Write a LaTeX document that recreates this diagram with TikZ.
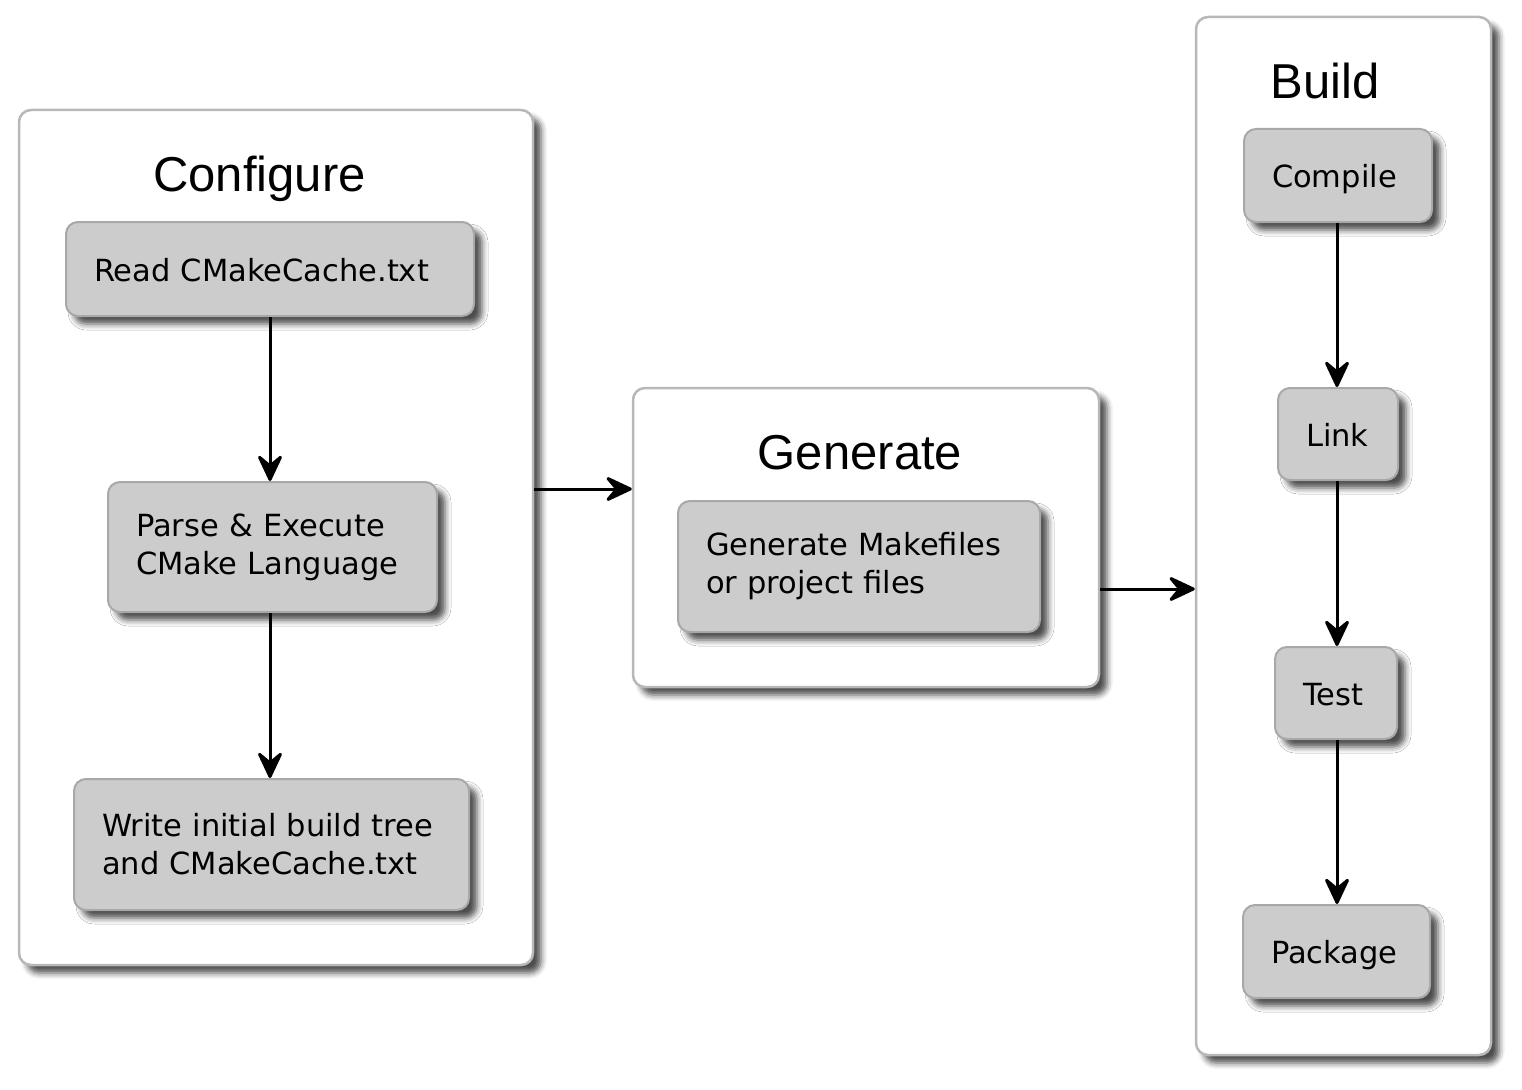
\documentclass[tikz,border=0pt]{standalone}
\usepackage{fontspec}
\setmainfont{DejaVu Sans}
\newfontfamily\titlefont{Liberation Sans}
\usetikzlibrary{arrows.meta,shadows.blur}
\definecolor{outerc}{HTML}{B8B8B8}
\definecolor{innerb}{HTML}{A8A8A8}
\definecolor{innerf}{HTML}{CCCCCC}
\begin{document}
\begin{tikzpicture}[x=1pt,y=-1pt,
  outerbox/.style={draw=outerc, line width=2.5pt, fill=white, rounded corners=12pt,
    blur shadow={shadow xshift=8pt, shadow yshift=-8pt, shadow blur radius=6pt, shadow opacity=70}},
  stepbox/.style={draw=innerb, line width=2pt, fill=innerf, rounded corners=12pt,
    inner xsep=28pt, align=left, font=\fontsize{30.5pt}{38pt}\selectfont,
    blur shadow={shadow xshift=8pt, shadow yshift=-8pt, shadow blur radius=6pt, shadow opacity=70}},
  oneline/.style={text height=31pt, text depth=7pt},
  titletext/.style={font=\titlefont\fontsize{49pt}{58pt}\selectfont, inner sep=0pt, anchor=base},
  arr/.style={line width=3pt, -{Stealth[length=31pt, width=29pt, inset=12pt, round]}}
]
\useasboundingbox (0,0) rectangle (1522,1089);

% Configure
\node[outerbox, minimum width=514pt, minimum height=855pt] (conf) at (276,537.5) {};
\node[titletext] (conft) at (259.5,191) {Configure};
\node[stepbox, oneline, minimum height=94pt, text width=352pt] (read) at (270,269) {Read CMakeCache.txt};
\node[stepbox, minimum height=130pt, text width=273pt] (parse) at (272.5,547) {Parse \& Execute\\CMake Language};
\node[stepbox, minimum height=131pt, text width=339pt] (write) at (271.5,844.5) {Write initial build tree\\and CMakeCache.txt};

% Generate
\node[outerbox, minimum width=466pt, minimum height=299pt] (gen) at (866,537.5) {};
\node[titletext] (gent) at (860,469) {Generate};
\node[stepbox, minimum height=131pt, text width=306pt] (genf) at (859,566.5) {Generate Makefiles\\or project files};

% Build
\node[outerbox, minimum width=295pt, minimum height=1038pt] (build) at (1343.5,536) {};
\node[titletext] (buildt) at (1325,99) {Build};
\node[stepbox, oneline, minimum height=93pt, text width=132pt] (compile) at (1338,175.5) {Compile};
\node[stepbox, oneline, minimum height=92pt, text width=64pt] (link) at (1338,434) {Link};
\node[stepbox, oneline, minimum height=92pt, text width=66pt] (test) at (1336,693) {Test};
\node[stepbox, oneline, minimum height=93pt, text width=131pt] (package) at (1336.5,951.5) {Package};

% connectors
\coordinate (y1) at (0,489);
\coordinate (y2) at (0,589);
\draw[arr] (read.south) -- (read.south |- parse.north);
\draw[arr] (parse.south -| read.south) -- (read.south |- write.north);
\draw[arr] (conf.east |- y1) -- (gen.west |- y1);
\draw[arr] (gen.east |- y2) -- (build.west |- y2);
\coordinate (bx) at (1337,0);
\draw[arr] (bx |- compile.south) -- (bx |- link.north);
\draw[arr] (bx |- link.south) -- (bx |- test.north);
\draw[arr] (bx |- test.south) -- (bx |- package.north);
\end{tikzpicture}
\end{document}
